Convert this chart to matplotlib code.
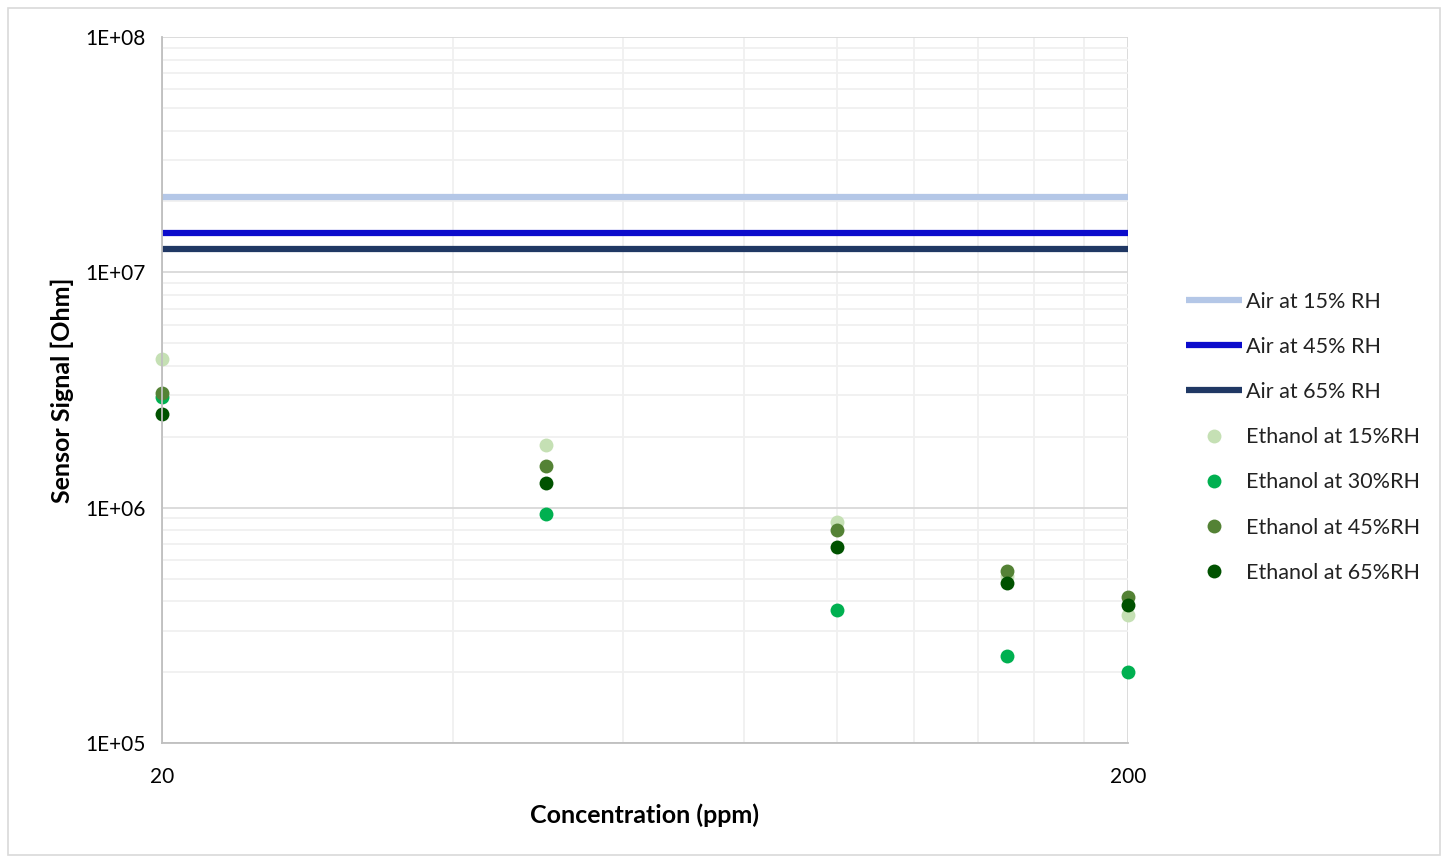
import matplotlib
matplotlib.use("Agg")
import matplotlib.pyplot as plt
from matplotlib.patches import Rectangle
from matplotlib.ticker import FixedLocator, NullFormatter, FixedFormatter

plt.rcParams['font.family'] = ['Lato', 'DejaVu Sans']

conc = [20, 50, 100, 150, 200]
air_15 = [2.10e7, 2.10e7, 2.10e7, 2.10e7, 2.10e7]
air_45 = [1.47e7, 1.47e7, 1.47e7, 1.47e7, 1.47e7]
air_65 = [1.26e7, 1.26e7, 1.26e7, 1.26e7, 1.26e7]
eth_15 = [4.28e6, 1.85e6, 8.7e5, 5.1e5, 3.5e5]
eth_30 = [2.95e6, 9.4e5, 3.67e5, 2.34e5, 2.0e5]
eth_45 = [3.07e6, 1.50e6, 8.0e5, 5.38e5, 4.17e5]
eth_65 = [2.50e6, 1.27e6, 6.8e5, 4.78e5, 3.86e5]

x_ticks = [20, 200]
x_tick_labels = ["20", "200"]
y_ticks = [1e5, 1e6, 1e7, 1e8]
y_tick_labels = ["1E+05", "1E+06", "1E+07", "1E+08"]

fig = plt.figure(figsize=(14.49, 8.59), dpi=100)
fig.patches.append(Rectangle((8/1449, 4/859), 1432/1449, 847/859, transform=fig.transFigure,
                             fill=False, edgecolor='#D9D9D9', linewidth=1.2))
ax = fig.add_axes([162/1449, 1-743/859, 966/1449, 706/859])
ax.set_xscale('log')
ax.set_yscale('log')
ax.set_xlim(20, 200)
ax.set_ylim(1e5, 1e8)

# gridlines
ax.xaxis.set_major_locator(FixedLocator(x_ticks))
ax.xaxis.set_major_formatter(FixedFormatter(x_tick_labels))
ax.xaxis.set_minor_locator(FixedLocator([40, 60, 80, 100, 120, 140, 160, 180]))
ax.xaxis.set_minor_formatter(NullFormatter())
ax.yaxis.set_major_locator(FixedLocator(y_ticks))
ax.yaxis.set_major_formatter(FixedFormatter(y_tick_labels))
minor_y = [m * 10**e for e in range(5, 8) for m in range(2, 10)]
ax.yaxis.set_minor_locator(FixedLocator(minor_y))
ax.yaxis.set_minor_formatter(NullFormatter())
ax.grid(which='major', axis='both', color='#D9D9D9', linewidth=1.3)
ax.grid(which='minor', axis='both', color='#F0F0F0', linewidth=1.3)
ax.set_axisbelow(True)
ax.tick_params(which='both', length=0, labelsize=15, colors='black', pad=12)
ax.tick_params(axis='x', pad=17)
for s in ['top', 'right']:
    ax.spines[s].set_visible(False)
for s in ['left', 'bottom']:
    ax.spines[s].set_color('#BFBFBF')
    ax.spines[s].set_linewidth(1.3)

lw = 4.5
ax.plot(conc, air_15, color='#B4C7E7', lw=lw, label='Air at 15% RH', solid_capstyle='butt')
ax.plot(conc, air_45, color='#0C0CCC', lw=lw, label='Air at 45% RH', solid_capstyle='butt')
ax.plot(conc, air_65, color='#203864', lw=lw, label='Air at 65% RH', solid_capstyle='butt')
ms = 10
ax.plot(conc, eth_15, 'o', color='#C5E0B4', ms=ms, mec='none', label='Ethanol at 15%RH', clip_on=False)
ax.plot(conc, eth_30, 'o', color='#00B050', ms=ms, mec='none', label='Ethanol at 30%RH', clip_on=False)
ax.plot(conc, eth_45, 'o', color='#548235', ms=ms, mec='none', label='Ethanol at 45%RH', clip_on=False)
ax.plot(conc, eth_65, 'o', color='#005200', ms=ms, mec='none', label='Ethanol at 65%RH', clip_on=False)

ax.set_xlabel('Concentration (ppm)', fontsize=18, fontweight='bold', labelpad=12)
ax.set_ylabel('Sensor Signal [Ohm]', fontsize=18, fontweight='bold', labelpad=8)

leg = fig.legend(loc='upper left', bbox_to_anchor=(1177/1449, 1-283/859), frameon=False,
                 fontsize=15.5, handlelength=2.6, handletextpad=0.2, labelspacing=1.17,
                 borderaxespad=0)
for t in leg.get_texts():
    t.set_color('#222222')

fig.savefig('out.png', dpi=100)
